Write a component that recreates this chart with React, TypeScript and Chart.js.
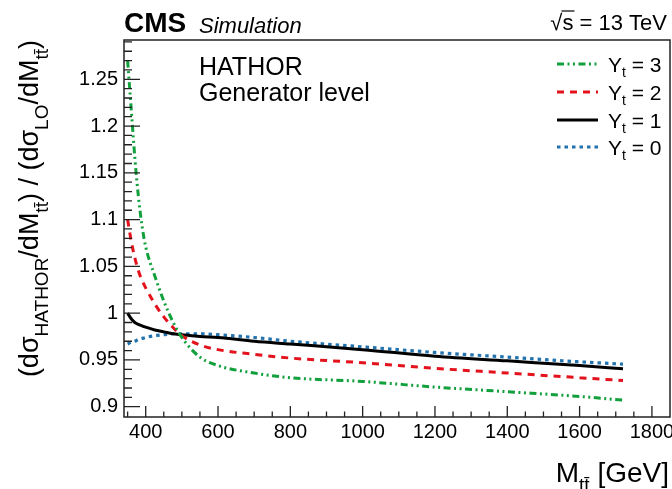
import React, { useEffect, useRef } from "react";
import { Chart, registerables } from "chart.js";
Chart.register(...registerables);

// ---- data ----
const massGeV = [350, 360, 370, 380, 390, 400, 425, 450, 475, 500, 550, 600, 700, 800, 1000, 1200, 1400, 1600, 1720];
const ratioYt3 = [1.27, 1.218, 1.166, 1.124, 1.093, 1.071, 1.04, 1.013, 0.991, 0.974, 0.953, 0.944, 0.936, 0.931, 0.927, 0.921, 0.916, 0.911, 0.907];
const ratioYt2 = [1.1, 1.077, 1.059, 1.045, 1.035, 1.027, 1.01, 0.996, 0.985, 0.976, 0.966, 0.961, 0.956, 0.952, 0.947, 0.941, 0.936, 0.931, 0.928];
const ratioYt1 = [1.0, 0.994, 0.99, 0.988, 0.9865, 0.985, 0.982, 0.98, 0.978, 0.977, 0.975, 0.974, 0.97, 0.967, 0.961, 0.954, 0.949, 0.944, 0.9405];
const ratioYt0 = [0.967, 0.969, 0.97, 0.972, 0.973, 0.974, 0.976, 0.977, 0.978, 0.978, 0.978, 0.977, 0.974, 0.97, 0.964, 0.958, 0.953, 0.948, 0.9455];

const ytValues = ["3", "2", "1", "0"];
const xTickValues = [400, 600, 800, 1000, 1200, 1400, 1600, 1800];
const xTickLabels = ["400", "600", "800", "1000", "1200", "1400", "1600", "1800"];
const yTickValues = [0.9, 0.95, 1, 1.05, 1.1, 1.15, 1.2, 1.25];
const yTickLabels = ["0.9", "0.95", "1", "1.05", "1.1", "1.15", "1.2", "1.25"];

const X_MIN = 340;
const X_MAX = 1850;
const Y_MIN = 0.889;
const Y_MAX = 1.292;
const X_MINOR = 50;
const Y_MINOR = 0.01;

const FONT = "'Liberation Sans', Arial, Helvetica, sans-serif";

const seriesStyles = [
  { color: "#12a03c", dash: [7, 3.5, 2, 3.5, 2, 3.5], width: 3 },
  { color: "#e3121c", dash: [7, 6], width: 3 },
  { color: "#000000", dash: [] as number[], width: 3 },
  { color: "#2273ad", dash: [3.5, 4], width: 3.2 },
];
const seriesData = [ratioYt3, ratioYt2, ratioYt1, ratioYt0];

type Seg = { t: string; sub?: boolean };

function richWidth(ctx: CanvasRenderingContext2D, segs: Seg[], F: number, S: number) {
  let w = 0;
  for (const s of segs) {
    ctx.font = `${s.sub ? S : F}px ${FONT}`;
    w += ctx.measureText(s.t).width;
  }
  return w;
}

function drawRich(
  ctx: CanvasRenderingContext2D,
  segs: Seg[],
  x: number,
  y: number,
  F: number,
  S: number,
  off: number,
  align: "left" | "right"
) {
  const w = richWidth(ctx, segs, F, S);
  let cx = align === "right" ? x - w : x;
  ctx.textAlign = "left";
  ctx.textBaseline = "alphabetic";
  for (const s of segs) {
    ctx.font = `${s.sub ? S : F}px ${FONT}`;
    ctx.fillText(s.t, cx, y + (s.sub ? off : 0));
    cx += ctx.measureText(s.t).width;
  }
}

const decorPlugin = {
  id: "decor",
  afterDraw(chart: any) {
    const ctx: CanvasRenderingContext2D = chart.ctx;
    const { left, right, top, bottom } = chart.chartArea;
    const xs = chart.scales.x;
    const ys = chart.scales.y;
    ctx.save();
    ctx.fillStyle = "#000";
    ctx.strokeStyle = "#222";
    // frame
    ctx.lineWidth = 1.5;
    ctx.strokeRect(left, top, right - left, bottom - top);
    // x ticks
    ctx.lineWidth = 1.3;
    ctx.beginPath();
    for (let v = 350; v <= X_MAX; v += X_MINOR) {
      const px = xs.getPixelForValue(v);
      if (px <= left + 1 || px >= right - 1) continue;
      const major = xTickValues.includes(v);
      const len = major ? 11 : 5.5;
      ctx.moveTo(px, bottom);
      ctx.lineTo(px, bottom - len);
    }
    // y ticks
    for (let i = Math.ceil(Y_MIN / Y_MINOR); i * Y_MINOR <= Y_MAX; i++) {
      const v = i * Y_MINOR;
      const py = ys.getPixelForValue(v);
      if (py <= top + 1 || py >= bottom - 1) continue;
      const major = yTickValues.some((t) => Math.abs(t - v) < 1e-6);
      const len = major ? 16 : 8;
      ctx.moveTo(left, py);
      ctx.lineTo(left + len, py);
    }
    ctx.stroke();

    // header
    ctx.textBaseline = "alphabetic";
    ctx.textAlign = "left";
    ctx.font = `bold 28px ${FONT}`;
    ctx.fillText("CMS", 124, 32);
    ctx.font = `italic 22px ${FONT}`;
    ctx.fillText("Simulation", 199, 33);

    // sqrt(s) = 13 TeV
    ctx.font = `22px ${FONT}`;
    ctx.textAlign = "right";
    const rest = "s = 13 TeV";
    ctx.fillText(rest, 667, 30);
    const restW = ctx.measureText(rest).width;
    const sW = ctx.measureText("s").width;
    ctx.fillText("\u221A", 667 - restW, 30);
    ctx.lineWidth = 1.2;
    ctx.strokeStyle = "#000";
    ctx.beginPath();
    ctx.moveTo(667 - restW - 1, 11);
    ctx.lineTo(667 - restW + sW + 1, 11);
    ctx.stroke();

    // inner text
    ctx.textAlign = "left";
    ctx.font = `25px ${FONT}`;
    ctx.fillText("HATHOR", 199, 75);
    ctx.fillText("Generator level", 199, 101);

    // legend
    const rows = [64, 92, 120, 147];
    rows.forEach((ry, i) => {
      const st = seriesStyles[i];
      ctx.save();
      ctx.strokeStyle = st.color;
      ctx.lineWidth = st.width;
      ctx.setLineDash(st.dash);
      ctx.beginPath();
      ctx.moveTo(557, ry);
      ctx.lineTo(598, ry);
      ctx.stroke();
      ctx.restore();
      drawRich(ctx, [{ t: "Y" }, { t: "t", sub: true }, { t: " = " + ytValues[i] }], 608, ry + 7.5, 21, 14, 5, "left");
    });

    // x title
    drawRich(
      ctx,
      [{ t: "M" }, { t: "tt\u0304", sub: true }, { t: " [GeV]" }],
      669,
      482,
      28,
      19,
      9,
      "right"
    );

    // y title (rotated)
    ctx.save();
    ctx.translate(38, 40);
    ctx.rotate(-Math.PI / 2);
    drawRich(
      ctx,
      [
        { t: "(d\u03C3" },
        { t: "HATHOR", sub: true },
        { t: "/dM" },
        { t: "tt\u0304", sub: true },
        { t: ") / (d\u03C3" },
        { t: "LO", sub: true },
        { t: "/dM" },
        { t: "tt\u0304", sub: true },
        { t: ")" },
      ],
      0,
      0,
      27,
      19,
      10,
      "right"
    );
    ctx.restore();
    ctx.restore();
  },
};

export default function App() {
  const ref = useRef<HTMLCanvasElement>(null);
  useEffect(() => {
    if (!ref.current) return;
    const datasets = seriesData.map((arr, i) => ({
      label: "Yt = " + ytValues[i],
      data: massGeV.map((m, k) => ({ x: m, y: arr[k] })),
      borderColor: seriesStyles[i].color,
      borderWidth: seriesStyles[i].width,
      borderDash: seriesStyles[i].dash,
      pointRadius: 0,
      fill: false,
      cubicInterpolationMode: "monotone" as const,
    }));
    const chart = new Chart(ref.current, {
      type: "line",
      data: { datasets },
      options: {
        animation: false,
        responsive: false,
        devicePixelRatio: 1,
        layout: { padding: { top: 40, right: 2, left: 0, bottom: 0 } },
        plugins: { legend: { display: false }, tooltip: { enabled: false } },
        scales: {
          x: {
            type: "linear",
            min: X_MIN,
            max: X_MAX,
            grid: { display: false, drawTicks: false },
            border: { display: false },
            ticks: {
              autoSkip: false,
              maxRotation: 0,
              padding: 3,
              color: "#000",
              font: { family: FONT, size: 20 },
              callback: (_v: any, i: number) => xTickLabels[i],
            },
            afterBuildTicks: (s: any) => {
              s.ticks = xTickValues.map((v) => ({ value: v }));
            },
            afterFit: (s: any) => {
              s.height = 72;
              s.paddingLeft = 0;
              s.paddingRight = 0;
            },
          },
          y: {
            type: "linear",
            min: Y_MIN,
            max: Y_MAX,
            grid: { display: false, drawTicks: false },
            border: { display: false },
            ticks: {
              autoSkip: false,
              padding: 6,
              color: "#000",
              font: { family: FONT, size: 20 },
              callback: (_v: any, i: number) => yTickLabels[i],
            },
            afterBuildTicks: (s: any) => {
              s.ticks = yTickValues.map((v) => ({ value: v }));
            },
            afterFit: (s: any) => {
              s.width = 124;
              s.paddingTop = 0;
              s.paddingBottom = 0;
            },
          },
        },
      },
      plugins: [decorPlugin],
    });
    return () => chart.destroy();
  }, []);
  return (
    <div style={{ position: "absolute", left: 0, top: 0, width: 672, height: 489, background: "#fff" }}>
      <canvas ref={ref} width={672} height={489} />
    </div>
  );
}
